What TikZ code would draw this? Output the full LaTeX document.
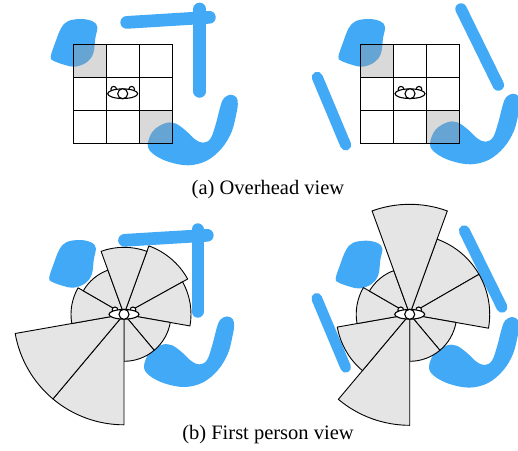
\documentclass[tikz,border=0pt]{standalone}
\usepackage{fontspec}
\setmainfont{Liberation Serif}
\definecolor{wallblue}{RGB}{65, 169, 245}
\definecolor{cc}{RGB}{229, 229, 229}
\definecolor{shade}{RGB}{158, 158, 158}

\tikzset{
	wall/.style={draw=wallblue, line width=#1, line cap=round},
	blob/.style={fill=wallblue},
	sector/.style={fill=cc, draw=black, line width=0.9pt, line join=round},
	cell/.style={fill=shade, fill opacity=0.39},
	gridline/.style={draw=black, line width=1pt},
	body/.style={fill=white, draw=black, line width=1.1pt},
	caption/.style={anchor=base, font=\fontsize{20.5}{24}\selectfont}
}

\newcommand{\blobtop}[1]{
	\fill [blob, shift={(#1)}] plot[smooth cycle, tension=0.6] coordinates {(97.3,27) (93,21.5) (81.7,19) (68.3,21) (61,28.3) (55,43.3) (50.7,56.7) (53.3,60.7) (65,65) (75,66.7) (86.7,62.3) (93.3,53.3) (95.3,38.3)};
}
\newcommand{\blobbottom}[1]{
	\fill [blob, shift={(#1)}] plot[smooth cycle, tension=0.6] coordinates {(230.7,94.7) (236.5,97.5) (237.8,104) (236.5,113) (231.7,131.7) (221.7,148.3) (206.7,160.7) (188.3,165.3) (168.3,161.7) (153.3,154) (147.7,145) (153,131) (165,123.3) (175,123.3) (185,130) (195,139.3) (203.3,142.7) (210.7,138.3) (216,123.3) (220.5,106) (224,98)};
}
\newcommand{\person}[1]{
	\begin{scope}[shift={(#1)}]
		\draw [body] (-9,-4.5) circle (2.8);
		\draw [body] (9,-4.5) circle (2.8);
		\draw [body] (0,0) ellipse (15 and 4.8);
		\draw [body] (0,0) circle (5);
	\end{scope}
}
\newcommand{\gridmap}[1]{
	\begin{scope}[shift={(#1,44)}]
		\fill [cell] (0,0) rectangle (33,33);
		\fill [cell] (66,66) rectangle (99,99);
		\foreach \i in {0,1,2,3} {
			\draw [gridline, line cap=rect] (33*\i,0) -- (33*\i,99);
			\draw [gridline, line cap=rect] (0,33*\i) -- (99,33*\i);
		}
	\end{scope}
}
% center, start angle, end angle, radius
\newcommand{\fov}[4]{
	\draw [sector] (#1) -- ++(#2:#4) arc (#2:#3:#4) -- cycle;
}

\begin{document}
\begin{tikzpicture}
		[x=1pt,y=-1pt]
		\useasboundingbox (0,0) rectangle (518,450);

		% overhead, left
		\blobtop{0,0}
		\blobbottom{0,0}
		\draw [wall=12.7pt] (126.7,22.4) -- (209.4,17.3);
		\draw [wall=12.7pt] (199.7,9) -- (199.7,91.4);
		\gridmap{73}
		\person{122.7,93.7}

		% overhead, right
		\blobtop{287.7,0}
		\blobbottom{282.3,-1}
		\draw [wall=11.5pt] (461,9) -- (498.3,85);
		\draw [wall=11pt] (317.3,77.3) -- (345.7,145);
		\gridmap{360.7}
		\person{410,93.7}

		\node (a) [caption] at (268,194) {(a) Overhead view};

		% first person, left
		\blobtop{-1.5,221}
		\blobbottom{-3.7,221.7}
		\draw [wall=12.7pt] (124.5,240.3) -- (207.3,235.3);
		\draw [wall=12pt] (197.5,229.3) -- (197.5,311.7);
		\coordinate (c1) at (124,314.3);
		\fov{c1}{-70}{-29}{72.8}
		\fov{c1}{-29}{10}{67}
		\fov{c1}{10}{50}{47}
		\fov{c1}{50}{90}{47}
		\fov{c1}{90}{130}{110.5}
		\fov{c1}{130}{170}{110.5}
		\fov{c1}{170}{210}{53}
		\fov{c1}{210}{250}{47}
		\fov{c1}{250}{290}{67}
		\person{124,314.3}

		% first person, right
		\blobtop{285,221.7}
		\blobbottom{281.3,222.3}
		\draw [wall=11pt] (464.3,230.7) -- (502,307.3);
		\draw [wall=10.7pt] (316.7,298.3) -- (345.7,367.3);
		\coordinate (c2) at (409.7,314.3);
		\fov{c2}{-70}{-30}{80}
		\fov{c2}{-30}{10}{80}
		\fov{c2}{10}{50}{47}
		\fov{c2}{50}{90}{47}
		\fov{c2}{90}{130}{111}
		\fov{c2}{130}{170}{73.5}
		\fov{c2}{170}{210}{53.5}
		\fov{c2}{210}{250}{46.5}
		\fov{c2}{250}{290}{110}
		\person{409.7,314.3}

		\node (b) [caption] at (268,439) {(b) First person view};
\end{tikzpicture}
\end{document}
